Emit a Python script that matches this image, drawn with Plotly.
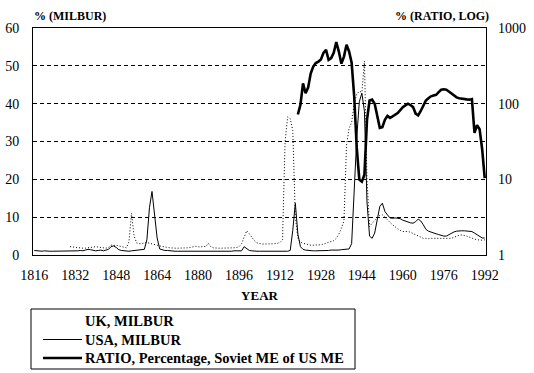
import plotly.graph_objects as go

# ---------------- data ----------------
usa_start = 1816
usa_milbur = [
    1.2, 1.1, 1.0, 1.0, 1.1, 1.0, 1.0, 1.0, 1.0, 1.0,      # 1816-1825
    1.1, 1.0, 1.0, 1.0, 1.1, 1.0, 1.0, 1.1, 1.2, 1.1,      # 1826-1835
    1.3, 1.5, 1.4, 1.2, 1.1, 1.2, 1.3, 1.1, 1.2, 1.5,      # 1836-1845
    2.2, 2.4, 2.0, 1.4, 1.2, 1.1, 1.1, 1.0, 1.1, 1.2,      # 1846-1855
    1.2, 1.3, 1.4, 1.5, 4.0, 12.5, 16.8, 10.5, 4.5, 1.6,   # 1856-1865
    1.3, 1.2, 1.2, 1.1, 1.1, 1.0, 1.0, 1.0, 1.0, 0.9,      # 1866-1875
    0.9, 0.9, 0.9, 0.9, 0.8, 0.8, 0.8, 0.8, 0.8, 0.9,      # 1876-1885
    0.9, 0.9, 0.9, 0.9, 1.0, 1.0, 1.0, 1.0, 1.1, 1.1,      # 1886-1895
    1.0, 1.1, 2.2, 1.6, 1.2, 1.1, 1.0, 1.0, 1.0, 1.0,      # 1896-1905
    0.9, 0.9, 1.0, 1.0, 1.0, 0.9, 0.9, 0.9, 0.9, 1.0,      # 1906-1915
    1.2, 6.5, 13.7, 5.5, 2.2, 1.5, 1.3, 1.2, 1.2, 1.1,     # 1916-1925
    1.1, 1.1, 1.1, 1.1, 1.2, 1.2, 1.3, 1.3, 1.2, 1.3,      # 1926-1935
    1.4, 1.4, 1.4, 1.6, 3.0, 17.0, 31.0, 40.5, 42.8, 38.0, # 1936-1945
    14.0, 5.0, 4.4, 5.8, 9.0, 12.8, 13.7, 11.5, 10.6, 9.8, # 1946-1955
    9.7, 9.8, 9.7, 9.6, 9.2, 8.9, 8.7, 8.5, 8.4, 8.8,      # 1956-1965
    9.5, 9.0, 8.0, 6.8, 6.3, 6.0, 5.8, 5.6, 5.4, 5.1,      # 1966-1975
    5.0, 5.0, 5.4, 5.8, 6.1, 6.3, 6.4, 6.4, 6.4, 6.4,      # 1976-1985
    6.4, 6.2, 5.8, 5.4, 5.0, 4.5, 4.5,                     # 1986-1992
]

uk_start = 1830
uk_milbur = [
    2.2, 2.1, 2.0, 2.0, 1.9, 1.8, 1.8, 1.9, 2.0, 2.1,      # 1830-1839
    2.2, 2.1, 2.0, 1.9, 1.8, 2.0, 2.6, 2.5, 2.6, 2.4,      # 1840-1849
    2.2, 2.0, 1.9, 3.5, 11.0, 5.0, 3.2, 3.0, 3.0, 3.2,     # 1850-1859
    3.3, 3.1, 3.0, 2.8, 2.6, 2.4, 2.2, 2.1, 2.0, 1.9,      # 1860-1869
    1.8, 1.8, 1.8, 1.8, 1.8, 1.8, 1.9, 2.0, 2.2, 2.3,      # 1870-1879
    2.2, 2.1, 2.3, 2.2, 3.1, 2.2, 1.9, 1.8, 1.8, 1.8,      # 1880-1889
    1.8, 1.8, 1.8, 1.8, 1.9, 2.0, 2.2, 3.0, 4.8, 6.4,      # 1890-1899
    5.6, 4.6, 3.8, 3.2, 3.0, 2.9, 2.9, 2.9, 2.9, 2.9,      # 1900-1909
    3.0, 3.1, 3.3, 4.0, 30.0, 36.5, 36.0, 33.0, 10.0, 4.4, # 1910-1919
    3.4, 3.1, 2.9, 2.7, 2.6, 2.6, 2.6, 2.6, 2.7, 2.9,      # 1920-1929
    3.1, 3.2, 3.4, 3.8, 4.4, 5.5, 7.1, 9.0, 29.0, 33.5,    # 1930-1939
    35.0, 40.0, 42.5, 43.3, 43.0, 51.2, 20.0, 7.5, 8.4, 9.0,  # 1940-1949
    9.8, 10.5, 10.6, 10.0, 9.2, 8.6, 8.0, 7.4, 6.9, 6.5,   # 1950-1959
    6.2, 6.2, 6.2, 6.0, 5.7, 5.3, 5.0, 4.7, 4.4, 4.4,      # 1960-1969
    4.3, 4.4, 4.4, 4.5, 4.6, 4.5, 4.4, 4.4, 4.4, 4.4,      # 1970-1979
    4.7, 5.0, 5.2, 5.3, 5.2, 5.0, 4.7, 4.4, 4.2, 4.0,      # 1980-1989
    4.0, 3.9, 4.0,                                         # 1990-1992
]

ratio_start = 1919
ratio_pct = [
    72, 97, 185, 138, 163, 250, 309, 344, 360, 383,        # 1919-1928
    470, 515, 380, 400, 470, 650, 488, 338, 419, 600,      # 1929-1938
    490, 347, 125, 26, 9.9, 9.3, 11.5, 61, 110, 113,       # 1939-1948
    100, 67, 48, 49, 61, 69, 65, 68, 71, 75,               # 1949-1958
    82, 90, 95, 100, 96, 90, 74, 70, 80, 92,               # 1959-1968
    110, 118, 125, 128, 131, 142, 153, 155, 153, 145,      # 1969-1978
    137, 128, 121, 118, 116, 115, 114, 113, 115, 41,       # 1979-1988
    52, 46, 25, 10.4,                                      # 1989-1992
]

series_names = ["UK, MILBUR", "USA, MILBUR", "RATIO, Percentage, Soviet ME of US ME"]

usa_years = list(range(usa_start, usa_start + len(usa_milbur)))
uk_years = list(range(uk_start, uk_start + len(uk_milbur)))
ratio_years = list(range(ratio_start, ratio_start + len(ratio_pct)))

x_ticks = list(range(1816, 1993, 16))
left_ticks = [0, 10, 20, 30, 40, 50, 60]
right_ticks = [1, 10, 100, 1000]

FONT = "Liberation Serif, Times New Roman, Times, serif"

# plot-area geometry in pixels (used only to place the hand-drawn legend box)
W, H = 534, 373
ML, MR, MT, MB = 33, 48, 28, 118
PW, PH = W - ML - MR, H - MT - MB


def px_x(px):
    return (px - ML) / PW


def px_y(py):
    return (H - MB - py) / PH


fig = go.Figure()
fig.add_trace(go.Scatter(x=uk_years, y=uk_milbur, mode="lines", name=series_names[0],
                         line=dict(color="black", width=1, dash="1px,2px")))
fig.add_trace(go.Scatter(x=usa_years, y=usa_milbur, mode="lines", name=series_names[1],
                         line=dict(color="black", width=1)))
fig.add_trace(go.Scatter(x=ratio_years, y=ratio_pct, mode="lines", name=series_names[2],
                         yaxis="y2", line=dict(color="black", width=2.6)))

# legend drawn as a box with samples and text (reference layout: tight rows)
row_y = [321, 339.5, 358]
shapes = [
    dict(type="rect", xref="paper", yref="paper", x0=px_x(31), x1=px_x(355),
         y0=px_y(309), y1=px_y(369), line=dict(color="black", width=1),
         fillcolor="white", layer="above"),
    dict(type="line", xref="paper", yref="paper", x0=px_x(43), x1=px_x(82),
         y0=px_y(row_y[1]), y1=px_y(row_y[1]), line=dict(color="black", width=1)),
    dict(type="line", xref="paper", yref="paper", x0=px_x(43), x1=px_x(82),
         y0=px_y(row_y[2]), y1=px_y(row_y[2]), line=dict(color="black", width=2.6)),
]
annotations = [
    dict(text="<b>% (MILBUR)</b>", xref="paper", yref="paper", x=px_x(32), y=px_y(16),
         xanchor="left", yanchor="middle", showarrow=False, font=dict(family=FONT, size=12)),
    dict(text="<b>% (RATIO, LOG)</b>", xref="paper", yref="paper", x=px_x(491), y=px_y(16),
         xanchor="right", yanchor="middle", showarrow=False, font=dict(family=FONT, size=12)),
]
for name, ry in zip(series_names, row_y):
    annotations.append(dict(text="<b>" + name + "</b>", xref="paper", yref="paper",
                            x=px_x(83), y=px_y(ry), xanchor="left", yanchor="middle",
                            showarrow=False, font=dict(family=FONT, size=14.5)))

fig.update_layout(
    width=W, height=H,
    margin=dict(l=ML, r=MR, t=MT, b=MB, autoexpand=False),
    paper_bgcolor="white", plot_bgcolor="white",
    font=dict(family=FONT, size=14, color="black"),
    showlegend=False,
    xaxis=dict(range=[1815.5, 1992.5], tickvals=x_ticks, showgrid=False, zeroline=False,
               showline=True, linecolor="black", linewidth=1, mirror=True, ticks="",
               tickfont=dict(family=FONT, size=14), ticklabelstandoff=7, automargin=False,
               title=dict(text="<b>YEAR</b>", font=dict(family=FONT, size=13), standoff=9)),
    yaxis=dict(range=[0, 60], tickvals=left_ticks, showgrid=True, gridcolor="black",
               griddash="4px,3px", gridwidth=1, zeroline=False, showline=True,
               linecolor="black", linewidth=1, mirror=True, ticks="", automargin=False,
               tickfont=dict(family=FONT, size=14), ticklabelstandoff=10),
    yaxis2=dict(type="log", range=[0, 3], tickvals=right_ticks, ticktext=[str(v) for v in right_ticks],
                overlaying="y", side="right", showgrid=False, zeroline=False,
                showline=False, ticks="", tickfont=dict(family=FONT, size=14),
                ticklabelstandoff=11, automargin=False),
    shapes=shapes,
    annotations=annotations,
)

fig.write_html("out.html", config={"displayModeBar": False},
               post_script="document.body.style.margin='0';")
